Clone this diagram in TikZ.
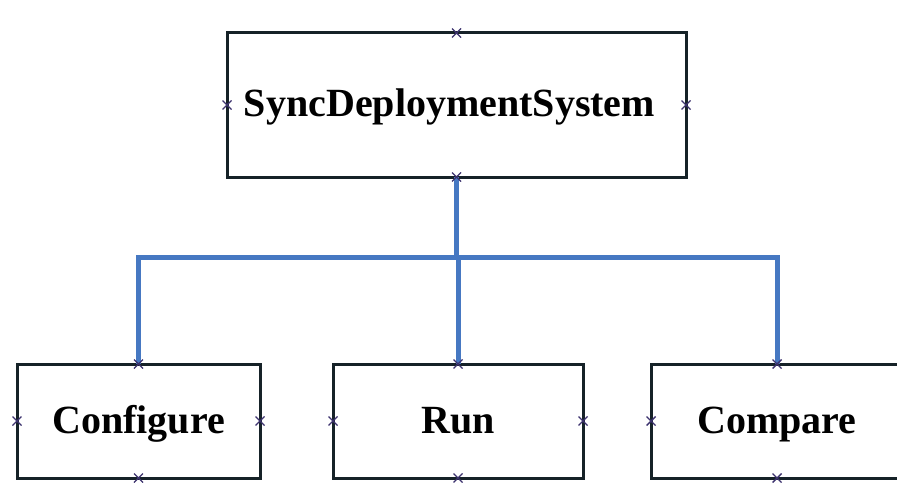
\documentclass[tikz,border=0pt]{standalone}
\usepackage{fontspec}
\setmainfont{Liberation Serif}
\definecolor{boxline}{RGB}{22,34,40}
\definecolor{connblue}{RGB}{70,120,194}
\definecolor{mkcol}{RGB}{60,50,110}
\newcommand\crossmk[1]{\draw[mk] (#1) +(-4.5,-4.5) -- +(4.5,4.5) +(-4.5,4.5) -- +(4.5,-4.5);}
\begin{document}
\begin{tikzpicture}[x=1pt,y=-1pt,
  blk/.style={draw=boxline, line width=3pt, rectangle, fill=white, inner sep=0pt, outer sep=0pt,
     text height=30pt, text depth=6pt,
     font=\fontsize{40}{48}\selectfont\bfseries, text=black},
  conn/.style={draw=connblue, line width=5pt, line join=miter},
  mk/.style={draw=mkcol, line width=1.4pt}]
\useasboundingbox (0,0) rectangle (897,484);
\fill[white] (0,0) rectangle (897,484);
\node[blk, minimum width=459pt, minimum height=144pt] (top) at (456.5,105) {SyncDeploymentSystem\kern14pt};
\node[blk, minimum width=243pt, minimum height=114pt] (conf) at (138.5,421) {Configure};
\node[blk, minimum width=250pt, minimum height=114pt] (run) at (458,421) {Run};
\node[blk, minimum width=252pt, minimum height=114pt] (cmp) at (777,421) {Compare};
\coordinate (bus) at (457,257);
\draw[conn] (top.south) -- (top.south |- bus);
\draw[conn] (conf.north) -- (conf.north |- bus) -- (cmp.north |- bus) -- (cmp.north);
\draw[conn] (run.north) -- (run.north |- bus);
\foreach \n in {top,conf,run,cmp}{
  \foreach \a in {north,south,east,west}{
    \crossmk{\n.\a}
  }
}
\end{tikzpicture}
\end{document}
